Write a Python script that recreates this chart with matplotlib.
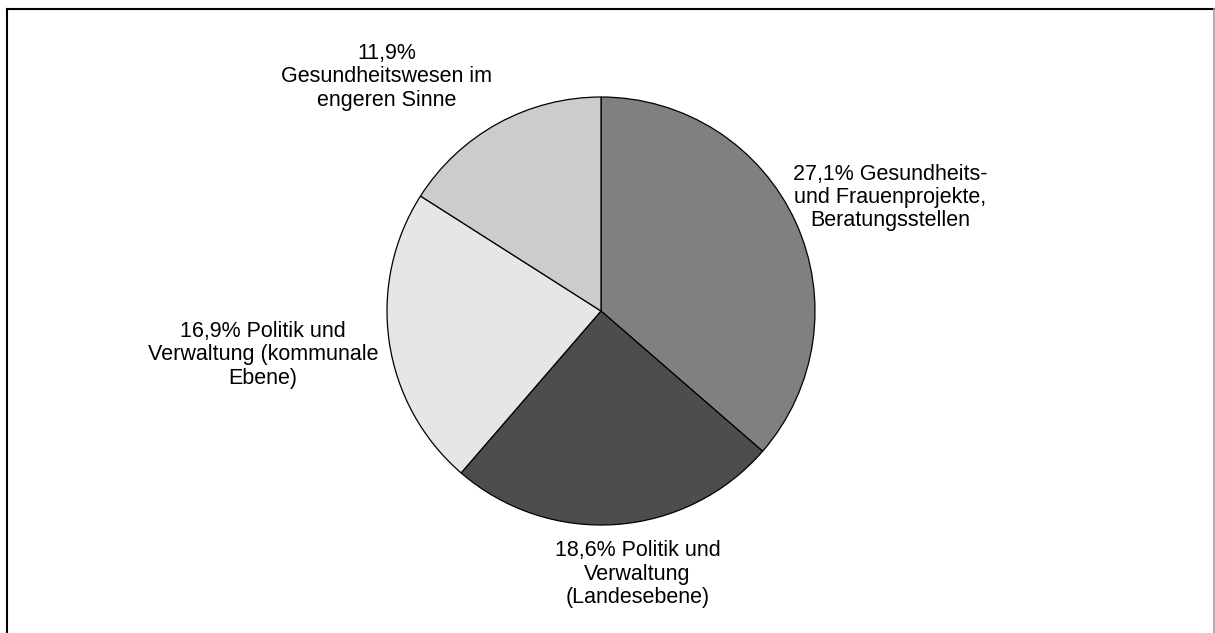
import matplotlib
matplotlib.use("Agg")
import matplotlib.pyplot as plt
from matplotlib.lines import Line2D

plt.rcParams['font.family'] = ['Liberation Sans', 'DejaVu Sans']

# data
shares = [27.1, 18.6, 16.9, 11.9]
labels = ["27,1% Gesundheits-\nund Frauenprojekte,\nBeratungsstellen",
          "18,6% Politik und\nVerwaltung\n(Landesebene)",
          "16,9% Politik und\nVerwaltung (kommunale\nEbene)",
          "11,9%\nGesundheitswesen im\nengeren Sinne"]
colors = ["#808080", "#4d4d4d", "#e6e6e6", "#cccccc"]
label_pos = [(1.35, 0.53), (0.17, -1.23), (-1.58, -0.205), (-1.0, 1.095)]

W, H = 1215, 633
cx, cy, r = 601, 311, 214

fig = plt.figure(figsize=(W / 100, H / 100), dpi=100)
ax = fig.add_axes([0, 0, 1, 1])
ax.pie(shares, colors=colors, startangle=90, counterclock=False,
       wedgeprops=dict(edgecolor="black", linewidth=0.9))
for lab, (x, y) in zip(labels, label_pos):
    ax.text(x, y, lab, ha="center", va="center", fontsize=15.5,
            linespacing=1.15, color="black")
ax.set_aspect("auto")
ax.set_xlim(-cx / r, (W - cx) / r)
ax.set_ylim(-(H - cy) / r, cy / r)
ax.axis("off")

# frame around the chart
fig.add_artist(Line2D([7 / W, 7 / W], [0, 1 - 9 / H], color="black", lw=1.5))
fig.add_artist(Line2D([7 / W, 1], [1 - 9 / H, 1 - 9 / H], color="black", lw=1.5))
fig.add_artist(Line2D([1213.5 / W, 1213.5 / W], [0, 1 - 9 / H], color="#a0a0a0", lw=1.2))

fig.savefig("out.png", dpi=100)
